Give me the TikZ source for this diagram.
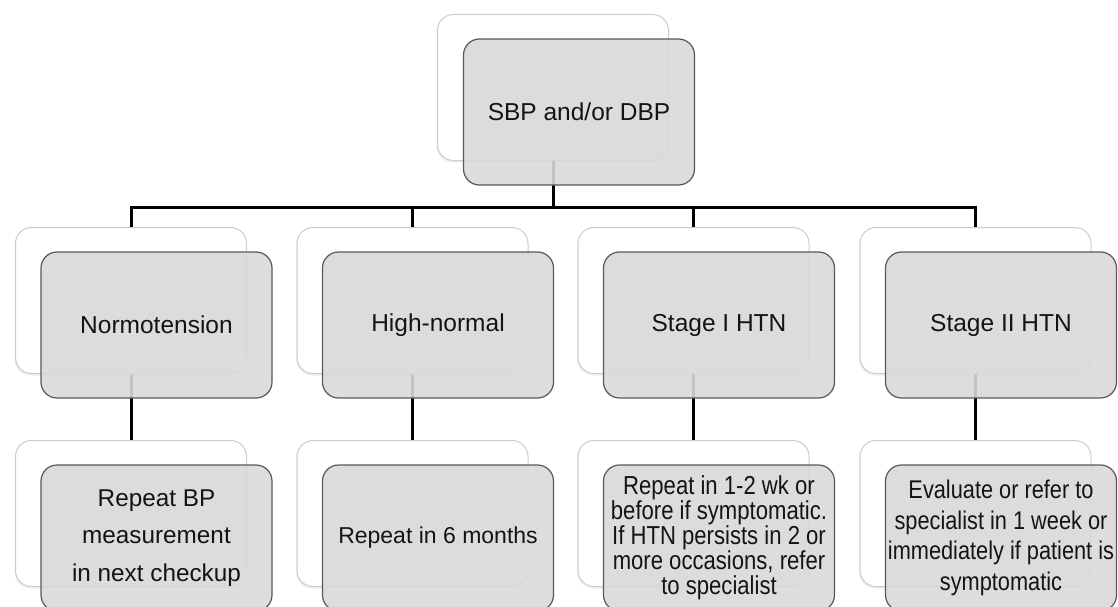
\documentclass[tikz,border=0pt]{standalone}
\usepackage{fontspec}
\setmainfont{Liberation Sans}
\newfontfamily\narrowfont[FakeStretch=0.85]{Liberation Sans}
\usetikzlibrary{shadows}
\pgfdeclarelayer{bg}
\pgfsetlayers{bg,main}
\begin{document}
\begin{tikzpicture}[x=1pt,y=-1pt,
  backbox/.style={draw=black!20, line width=1pt, fill=white, rounded corners=16pt,
    minimum width=231pt, minimum height=146pt, inner sep=0pt,
    drop shadow={opacity=0.12, shadow xshift=-1pt, shadow yshift=-2pt}},
  frontbox/.style={draw=black!65, line width=1.2pt, fill=black!15, fill opacity=0.9,
    text opacity=1, text=black!92, rounded corners=16pt, minimum width=231pt,
    minimum height=146pt, inner sep=0pt, align=center,
    font=\fontsize{24.5}{29}\selectfont},
  link/.style={line width=3pt, draw=black}]
\clip (0,0) rectangle (1118,607);
% top
\node[backbox] (b0) at (553,87.5) {};
\node[frontbox] (f0) at (579,112) {SBP and/or DBP};
% row 2
\node[backbox] (b1) at (131,300.5) {};
\node[backbox] (b2) at (412.5,300.5) {};
\node[backbox] (b3) at (693.5,300.5) {};
\node[backbox] (b4) at (975.5,300.5) {};
\node[frontbox] (f1) at (156.5,325) {Normotension};
\node[frontbox] (f2) at (438,325) {High-normal};
\node[frontbox] (f3) at (719,325) {Stage I HTN};
\node[frontbox] (f4) at (1001,325) {Stage II HTN};
% row 3
\node[backbox] (c1) at (131,513.5) {};
\node[backbox] (c2) at (412.5,513.5) {};
\node[backbox] (c3) at (693.5,513.5) {};
\node[backbox] (c4) at (975.5,513.5) {};
\node[frontbox, font=\fontsize{24.3}{37.5}\selectfont] (g1) at (156.5,538)
  {Repeat BP\\measurement\\in next checkup};
\node[frontbox, font=\fontsize{23}{28}\selectfont] (g2) at (438,538) {Repeat in 6 months};
\node[frontbox, font={\narrowfont\fontsize{26}{25}\selectfont}] (g3) at (719,538)
  {Repeat in 1-2 wk or\\before if symptomatic.\\If HTN persists in 2 or\\more occasions, refer\\to specialist};
\node[frontbox, font={\narrowfont\fontsize{25.6}{30.5}\selectfont}] (g4) at (1001,538)
  {Evaluate or refer to\\specialist in 1 week or\\immediately if patient is\\symptomatic};
% connectors
\coordinate (bus) at (0,207);
\begin{pgfonlayer}{bg}
\draw[link] (b0.south) -- (b0.south |- bus);
\draw[link] (b1.north) -- (b1.north |- bus) -- (b4.north |- bus) -- (b4.north);
\draw[link] (b2.north |- bus) -- (b2.north);
\draw[link] (b3.north |- bus) -- (b3.north);
\draw[link] (b1.south) -- (c1.north);
\draw[link] (b2.south) -- (c2.north);
\draw[link] (b3.south) -- (c3.north);
\draw[link] (b4.south) -- (c4.north);
\end{pgfonlayer}
\end{tikzpicture}
\end{document}
